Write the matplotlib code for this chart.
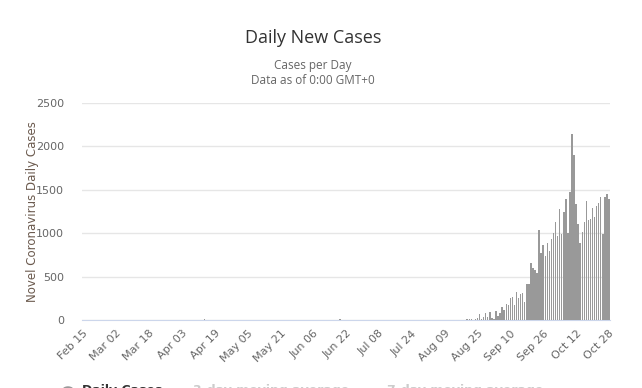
import numpy as np
import pandas as pd
import matplotlib
matplotlib.use("Agg")
import matplotlib.pyplot as plt

# daily new cases, Feb 15 - Oct 28
start_date = "2020-02-15"
end_date = "2020-10-28"
early_dates = ["2020-04-14", "2020-06-19"]
early_cases = [12, 12]
recent_start = "2020-08-20"
recent_cases = [12, 12, 12, 0, 10, 23, 69, 12, 38, 84,
                38, 92, 23, 15, 104, 50, 77, 150, 115, 184,
                173, 250, 265, 173, 323, 257, 304, 307, 211, 414,
                411, 657, 603, 576, 545, 1037, 768, 864, 733, 883,
                795, 937, 998, 1129, 972, 1275, 991, 1244, 1394, 998,
                1471, 2143, 1901, 1332, 1110, 883, 1014, 1129, 1371, 1152,
                1167, 1290, 1190, 1313, 1344, 1413, 987, 1413, 1452, 1394]
y_ticks = [0, 500, 1000, 1500, 2000, 2500]
legend_items = ["Daily Cases", "3-day moving average", "7-day moving average"]

dates = pd.date_range(start_date, end_date, freq="D")
cases = pd.Series(0.0, index=dates)
for d, v in zip(early_dates, early_cases):
    cases[pd.Timestamp(d)] = v
recent_idx = pd.date_range(recent_start, periods=len(recent_cases), freq="D")
cases[recent_idx] = recent_cases

x = np.arange(len(dates))
tick_pos = x[::16]
tick_labels = [d.strftime("%b %d") for d in dates[::16]]

fig = plt.figure(figsize=(6.42, 3.88), dpi=100)
ax = fig.add_axes([82 / 642, 1 - 320 / 388, 528 / 642, 217 / 388])

ax.bar(x, cases.values, width=0.72, color="#999999", zorder=3)
ax.set_xlim(-0.5, len(dates) - 0.5)
ax.set_ylim(0, 2500)
ax.set_yticks(y_ticks)
ax.set_yticklabels([str(v) for v in y_ticks], color="#666666", fontsize=8,
                   family="DejaVu Sans")
ax.set_xticks(tick_pos)
ax.set_xticklabels(tick_labels, rotation=45, ha="right", rotation_mode="anchor",
                   color="#666666", fontsize=8, family="DejaVu Sans")
ax.tick_params(axis="both", length=0, pad=6)
ax.tick_params(axis="y", pad=13)
ax.grid(axis="y", color="#e6e6e6", linewidth=1, zorder=0)
for side in ["top", "right", "left"]:
    ax.spines[side].set_visible(False)
ax.spines["bottom"].set_color("#ccd6eb")
ax.set_ylabel("Novel Coronavirus Daily Cases", color="#6b5a4e", fontsize=8.5,
              family="DejaVu Sans", labelpad=-2)

fig.text(313 / 642, 1 - 38 / 388, "Daily New Cases", ha="center", va="center",
         fontsize=13, color="#333333", family="Open Sans")
fig.text(313 / 642, 1 - 65 / 388, "Cases per Day", ha="center", va="center",
         fontsize=8.5, color="#666666", family="Open Sans")
fig.text(313 / 642, 1 - 80 / 388, "Data as of 0:00 GMT+0", ha="center", va="center",
         fontsize=8.5, color="#666666", family="Open Sans")

# legend, cut off at the bottom edge like the reference
fig.patches.append(matplotlib.patches.Circle((68 / 642, 1 - 390 / 388), 5 / 642,
                   transform=fig.transFigure, color="#999999"))
fig.text(82 / 642, 1 - 384 / 388, legend_items[0], ha="left", va="top",
         fontsize=9, fontweight="bold", color="#333333", family="DejaVu Sans")
fig.text(193 / 642, 1 - 384 / 388, legend_items[1], ha="left", va="top",
         fontsize=9, fontweight="bold", color="#cccccc", family="DejaVu Sans")
fig.text(387 / 642, 1 - 384 / 388, legend_items[2], ha="left", va="top",
         fontsize=9, fontweight="bold", color="#cccccc", family="DejaVu Sans")

plt.savefig("out.png", dpi=100)
